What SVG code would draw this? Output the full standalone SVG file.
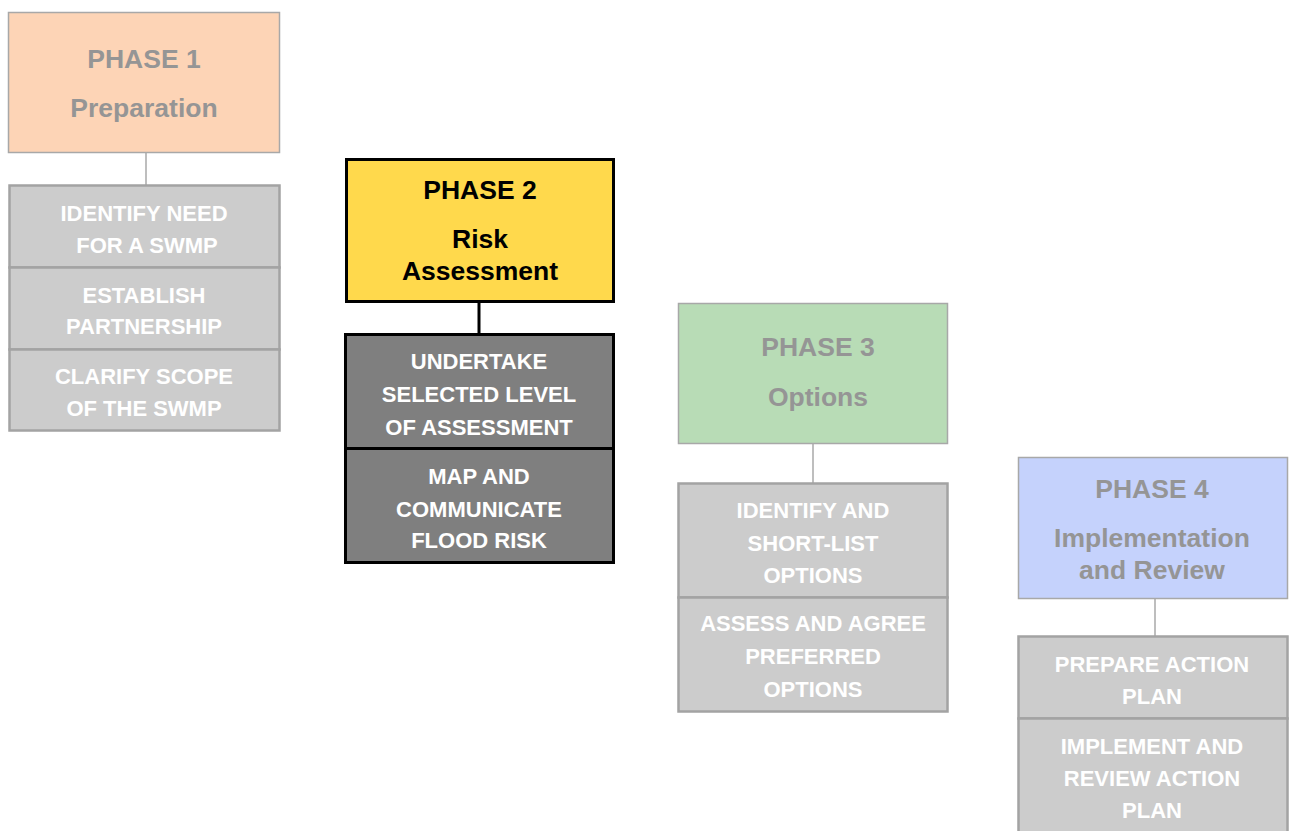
<svg xmlns="http://www.w3.org/2000/svg" width="1292" height="831" viewBox="0 0 1292 831">
<style>
.t{font-family:"Liberation Sans",Arial,sans-serif;font-weight:bold;text-anchor:middle}
.ph{font-size:26.5px;fill:#959595}
.phk{font-size:26.5px;fill:#000}
.st{font-size:22px;fill:#fff}
.pbox{stroke:#a8a8a8;stroke-width:1.5}
.lbox{fill:#cccccc;stroke:#a3a3a3;stroke-width:2.5}
.dbox{fill:#7f7f7f;stroke:#000;stroke-width:3}
.lc{stroke:#a8a8a8;stroke-width:1.5}
.dc{stroke:#000;stroke-width:3}
</style>
<rect width="1292" height="831" fill="#fff"/>
<g id="connectors">
<line class="lc" x1="146" y1="152" x2="146" y2="185"/>
<line class="dc" x1="479" y1="301" x2="479" y2="334"/>
<line class="lc" x1="813" y1="443" x2="813" y2="483"/>
<line class="lc" x1="1155" y1="598" x2="1155" y2="636"/>
</g>
<g id="phase1">
<rect class="pbox" x="8.5" y="12.5" width="271" height="140" fill="#fdd4b6"/>
<text class="t ph" x="144" y="68">PHASE 1</text>
<text class="t ph" x="144" y="117">Preparation</text>
</g>
<g id="p1a"><rect class="lbox" x="9.5" y="185.5" width="270" height="82"/>
<text class="t st" x="144" y="221">IDENTIFY NEED</text><text class="t st" x="147" y="253">FOR A SWMP</text></g>
<g id="p1b"><rect class="lbox" x="9.5" y="267.5" width="270" height="82"/>
<text class="t st" x="144" y="303">ESTABLISH</text><text class="t st" x="144" y="334">PARTNERSHIP</text></g>
<g id="p1c"><rect class="lbox" x="9.5" y="349.5" width="270" height="81"/>
<text class="t st" x="144" y="384">CLARIFY SCOPE</text><text class="t st" x="144" y="416">OF THE SWMP</text></g>

<g id="phase2">
<rect x="346.5" y="159.5" width="267" height="142" fill="#ffd94c" stroke="#000" stroke-width="3"/>
<text class="t phk" x="480" y="199">PHASE 2</text>
<text class="t phk" x="480" y="248">Risk</text>
<text class="t phk" x="480" y="280">Assessment</text>
</g>
<g id="p2a"><rect class="dbox" x="345.5" y="334.5" width="268" height="114"/>
<text class="t st" x="479" y="369">UNDERTAKE</text><text class="t st" x="479" y="402">SELECTED LEVEL</text><text class="t st" x="479" y="435">OF ASSESSMENT</text></g>
<g id="p2b"><rect class="dbox" x="345.5" y="448.5" width="268" height="114"/>
<text class="t st" x="479" y="484">MAP AND</text><text class="t st" x="479" y="517">COMMUNICATE</text><text class="t st" x="479" y="548">FLOOD RISK</text></g>

<g id="phase3">
<rect class="pbox" x="678.5" y="303.5" width="269" height="140" fill="#b8dcb6"/>
<text class="t ph" x="818" y="356">PHASE 3</text>
<text class="t ph" x="818" y="406">Options</text>
</g>
<g id="p3a"><rect class="lbox" x="678.5" y="483.5" width="269" height="114"/>
<text class="t st" x="813" y="518">IDENTIFY AND</text><text class="t st" x="813" y="551">SHORT-LIST</text><text class="t st" x="813" y="583">OPTIONS</text></g>
<g id="p3b"><rect class="lbox" x="678.5" y="597.5" width="269" height="114"/>
<text class="t st" x="813" y="631">ASSESS AND AGREE</text><text class="t st" x="813" y="664">PREFERRED</text><text class="t st" x="813" y="697">OPTIONS</text></g>

<g id="phase4">
<rect class="pbox" x="1018.5" y="457.5" width="269" height="141" fill="#c5d2fc"/>
<text class="t ph" x="1152" y="498">PHASE 4</text>
<text class="t ph" x="1152" y="547">Implementation</text>
<text class="t ph" x="1152" y="579">and Review</text>
</g>
<g id="p4a"><rect class="lbox" x="1018.5" y="636.5" width="269" height="82"/>
<text class="t st" x="1152" y="672">PREPARE ACTION</text><text class="t st" x="1152" y="704">PLAN</text></g>
<g id="p4b"><rect class="lbox" x="1018.5" y="718.5" width="269" height="120"/>
<text class="t st" x="1152" y="754">IMPLEMENT AND</text><text class="t st" x="1152" y="786">REVIEW ACTION</text><text class="t st" x="1152" y="818">PLAN</text></g>
</svg>
